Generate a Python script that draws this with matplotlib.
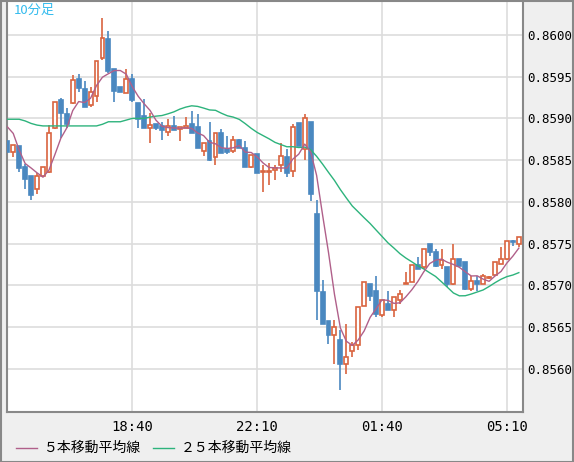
import matplotlib
matplotlib.use("Agg")
import matplotlib.pyplot as plt
import numpy as np
from matplotlib.patches import Rectangle
from matplotlib.lines import Line2D

# OHLC in units of 1e-5 (85873 -> 0.85873)
opens  = [85873,85860,85867,85842,85831,85815,85831,85836,85888,85922,85905,85918,85947,85935,85916,85927,85972,85995,85959,85938,
          85930,85947,85918,85903,85888,85893,85891,85884,85891,85887,85888,85893,85890,85861,85873,85854,85882,85863,85861,85874,
          85864,85842,85857,85836,85836,85838,85844,85854,85837,85894,85863,85896,85785,85692,85657,85641,85634,85606,85621,85629,
          85675,85701,85693,85665,85678,85671,85682,85701,85704,85724,85722,85749,85740,85724,85722,85702,85731,85728,85695,85705,
          85702,85709,85712,85726,85731,85753,85750]
highs  = [85873,85868,85867,85845,85831,85834,85842,85892,85920,85924,85912,85952,85953,85945,85938,85969,86020,86005,85959,85938,
          85959,85953,85918,85923,85906,85893,85896,85899,85903,85890,85902,85909,85905,85870,85896,85882,85887,85879,85879,85875,
          85873,85856,85857,85844,85846,85844,85870,85863,85893,85894,85905,85896,85802,85706,85657,85658,85647,85654,85632,85674,
          85704,85702,85711,85682,85693,85686,85694,85716,85724,85734,85744,85749,85743,85743,85722,85749,85731,85728,85711,85711,
          85714,85711,85728,85746,85753,85754,85758]
lows   = [85850,85854,85836,85816,85802,85810,85830,85834,85887,85876,85888,85917,85932,85914,85914,85920,85970,85954,85920,85932,
          85930,85920,85888,85888,85870,85886,85874,85879,85886,85873,85888,85882,85864,85855,85849,85844,85858,85857,85858,85864,
          85842,85840,85834,85812,85820,85826,85836,85830,85830,85867,85850,85801,85659,85654,85630,85606,85574,85594,85614,85622,
          85675,85681,85662,85662,85671,85662,85678,85701,85704,85719,85720,85735,85722,85720,85698,85700,85723,85694,85693,85693,
          85702,85707,85711,85726,85730,85747,85746]
closes = [85860,85868,85840,85827,85808,85831,85842,85882,85920,85906,85893,85946,85936,85914,85932,85969,85996,85957,85933,85932,
          85947,85922,85899,85888,85892,85888,85886,85891,85886,85890,85891,85882,85864,85870,85850,85882,85858,85860,85874,85864,
          85842,85856,85834,85837,85837,85840,85855,85834,85890,85867,85900,85809,85693,85654,85641,85650,85606,85614,85629,85674,
          85704,85687,85666,85682,85671,85686,85690,85702,85724,85720,85744,85740,85723,85730,85701,85731,85723,85696,85705,85702,
          85711,85710,85728,85732,85753,85752,85758]
# moving average values read at the left edge (history before the window)
ma5_head = [85890,85882,85862,85846]
ma25_head = [85899,85899,85899,85897,85894,85892,85891,85891,85891,85891,85891,85891,85891,85891,85891,85891,
             85893,85896,85896,85896,85898,85900,85900,85900]
tick_idx = [21,42,63,84]
tick_labels = ["18:40","22:10","01:40","05:10"]
ytick_vals = [0.8560,0.8565,0.8570,0.8575,0.8580,0.8585,0.8590,0.8595,0.8600]

sc = 1e-5
O = np.array(opens)*sc; H = np.array(highs)*sc; L = np.array(lows)*sc; C = np.array(closes)*sc
n = len(C)
ma5 = np.concatenate([np.array(ma5_head)*sc, [C[i-4:i+1].mean() for i in range(4, n)]])
ma25 = np.concatenate([np.array(ma25_head)*sc, [C[i-24:i+1].mean() for i in range(24, n)]])

W, Hh = 574, 462
fig = plt.figure(figsize=(W/100, Hh/100), dpi=100, facecolor="#efefef")
ax = fig.add_axes([7/W, 1-412/Hh, (523-7)/W, 412/Hh])
ax.set_facecolor("white")
red = "#d9643f"; blue = "#4a88c0"
x = np.arange(n)
for i in x:
    up = C[i] >= O[i]
    col = red if up else blue
    lo_b, hi_b = min(O[i], C[i]), max(O[i], C[i])
    ax.vlines(i, L[i], lo_b, color=col, lw=1.2, zorder=2)
    ax.vlines(i, hi_b, H[i], color=col, lw=1.2, zorder=2)
    h = max(hi_b-lo_b, 0.000015)
    ax.add_patch(Rectangle((i-0.33, lo_b), 0.66, h, facecolor="white" if up else col,
                           edgecolor=col, lw=1.2, zorder=3))
ax.plot(x, ma25, color="#2db37c", lw=1, zorder=4)
ax.plot(x, ma5, color="#b0608a", lw=1, zorder=4)
ax.set_xlim(-0.05, 86.7)
ax.set_ylim(0.855482, 0.860419)
ax.set_xticks(tick_idx); ax.set_xticklabels(tick_labels)
ax.yaxis.tick_right()
ax.set_yticks(ytick_vals); ax.set_yticklabels([f"{v:.4f}" for v in ytick_vals])
ax.grid(True, color="#dddddd", lw=1.2, zorder=0)
ax.tick_params(axis="y", length=0, labelsize=9, pad=3)
ax.tick_params(axis="x", length=0, labelsize=10, pad=6)
for lab in ax.get_xticklabels()+ax.get_yticklabels():
    lab.set_family("DejaVu Sans Mono")
for s in ax.spines.values():
    s.set_color("#888888"); s.set_linewidth(1.5)
fig.text(14/W, 1-10/Hh, "10分足", color="#33bbee", fontsize=9.5,
         va="center", family=["Noto Sans CJK JP", "DejaVu Sans"])
fig.patches.append(Rectangle((0.5/W, 0.5/Hh), (W-1.5)/W, (Hh-1.5)/Hh, transform=fig.transFigure,
                             fill=False, edgecolor="#888888", lw=1.5))
fp = dict(family=["Noto Sans CJK JP", "DejaVu Sans"], fontsize=10, va="center")
y_leg = 1-448/Hh
fig.add_artist(Line2D([16/W, 37/W], [y_leg, y_leg], color="#b0608a", lw=1))
fig.text(44/W, y_leg, "５本移動平均線", **fp)
fig.add_artist(Line2D([153/W, 174/W], [y_leg, y_leg], color="#2db37c", lw=1))
fig.text(181/W, y_leg, "２５本移動平均線", **fp)
fig.savefig("out.png", dpi=100, facecolor=fig.get_facecolor())
